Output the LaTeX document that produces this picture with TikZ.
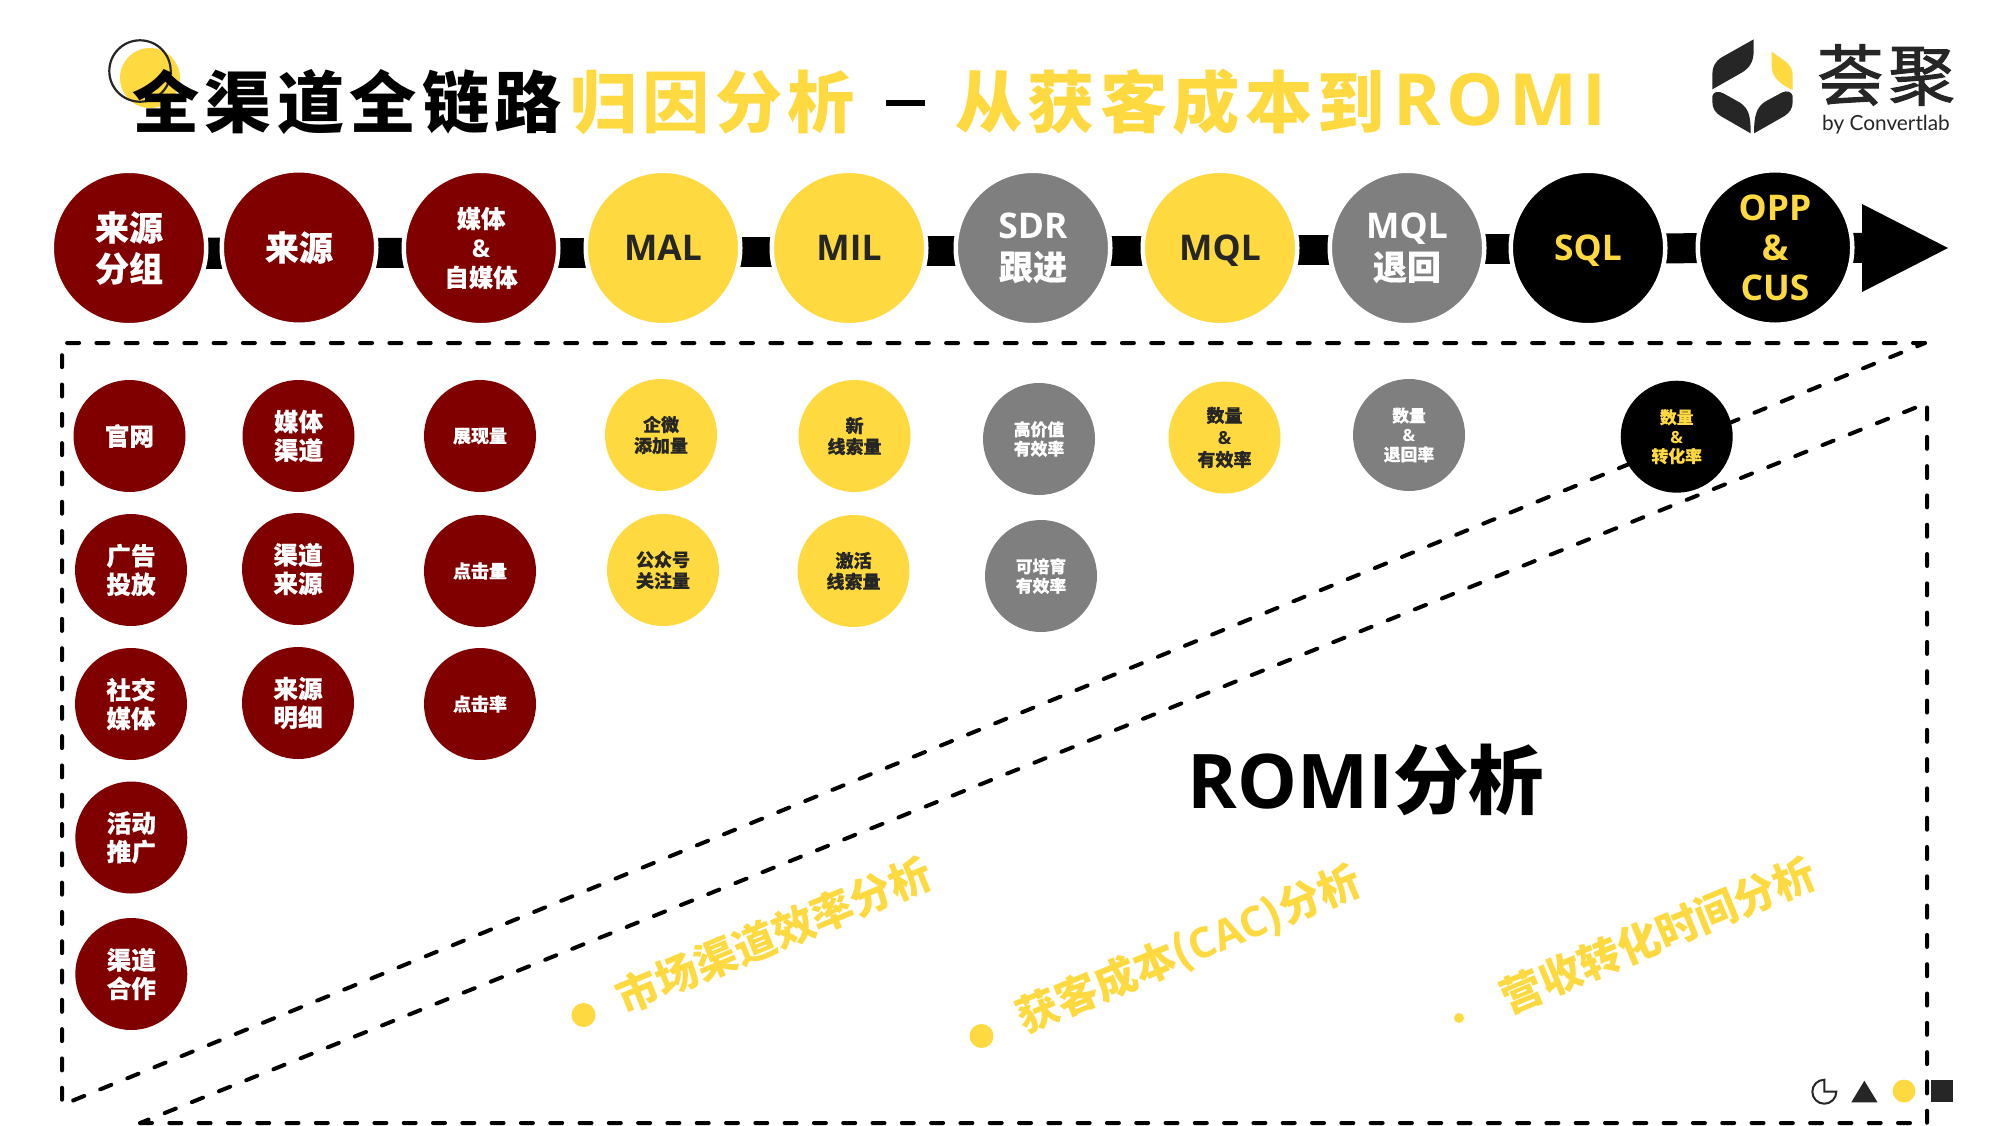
\documentclass[tikz,border=0pt]{standalone}
\usepackage{fontspec}
\usetikzlibrary{calc}
\newfontfamily\cjk[BoldFeatures={FakeBold=0.4}]{Noto Sans CJK SC}
\newfontfamily\cjkR{Noto Sans CJK SC}
\newfontfamily\cjkT[LetterSpace=8]{Noto Sans CJK SC}
\newfontfamily\cjkL[LetterSpace=8,FakeBold=1.6]{Noto Sans CJK SC}
\newfontfamily\lat{Open Sans}
\newfontfamily\latT[LetterSpace=8]{Open Sans}
\newfontfamily\logofont{Lato}
\newcommand\amp{{\lat\&}}
\newcommand\low[1]{\raisebox{0pt}[12.6pt][0pt]{#1}}
\definecolor{cred}{HTML}{800000}
\definecolor{cyel}{HTML}{FFD940}
\definecolor{cgry}{HTML}{7F7F7F}
\definecolor{cdrk}{HTML}{262626}
\pgfdeclarelayer{bg}
\pgfsetlayers{bg,main}
\newcommand\fs[2]{\fontsize{#1pt}{#2pt}\selectfont}
\tikzset{
  big/.style={circle,inner sep=0pt,outer sep=0pt,minimum size=77.25pt,draw=white,line width=2.25pt,align=center,font=\cjk\bfseries\fs{17}{20.5}},
  small/.style={circle,inner sep=0pt,outer sep=0pt,minimum size=56pt,align=center,font=\cjk\bfseries\fs{12.3}{14.3}},
  redc/.style={fill=cred,text=white},
  yelc/.style={fill=cyel,text=cdrk},
  gryc/.style={fill=cgry,text=white},
  blkc/.style={fill=black,text=cyel},
  bar/.style={line width=15pt,black},
  dashline/.style={line width=2pt,black,line cap=round,dash pattern=on 6pt off 8.65pt},
  tiny/.style={font=\cjk\bfseries\fs{9}{10.5}},
  tinier/.style={font=\cjk\bfseries\fs{8.4}{9.7}},
  mid/.style={font=\cjk\bfseries\fs{12.2}{14.7}},
  latin/.style={font=\lat\bfseries\fs{17.7}{20}},
  titletxt/.style={inner sep=0pt,outer sep=0pt,anchor=west,font=\cjkT\bfseries\fs{33.6}{36}},
  rottxt/.style={inner sep=0pt,text=cyel,rotate=22.5,font=\cjkR\bfseries\fs{21}{24}},
  dot/.style={circle,inner sep=0pt,fill=cyel},
  logoshape/.style={fill=cdrk}
}
\begin{document}
\begin{tikzpicture}[x=.5pt,y=-.5pt]
\useasboundingbox (0,0) rectangle (2000,1125);

% top row
\node[big,redc] (c1) at (129,248) {来源\\分组};
\node[big,redc] (c2) at (299,247.5) {来源};
\node[big,redc,mid] (c3) at (481,248) {媒体\\\amp\\自媒体};
\node[big,yelc,latin] (c4) at (663,248) {\low{MAL}};
\node[big,yelc,latin] (c5) at (849,248) {\low{MIL}};
\node[big,gryc] (c6) at (1033,248) {{\lat\bfseries\fs{17.7}{20.5}SDR}\\跟进};
\node[big,yelc,latin] (c7) at (1220,248) {\low{MQL}};
\node[big,gryc] (c8) at (1407,248) {{\lat\bfseries\fs{17.7}{20.5}MQL}\\退回};
\node[big,blkc,latin] (c9) at (1588,248) {\low{SQL}};
\node[big,blkc,latin] (c10) at (1775,247.5) {OPP\\\&\\CUS};
\coordinate (tipbase) at (1870,248);

% corners of the dashed frames
\coordinate (a1) at (62,343);
\coordinate (a2) at (1925,343);
\coordinate (a3) at (62,1105);
\coordinate (b1) at (1927,403);
\coordinate (b2) at (1927,1123);
\coordinate (b3) at (140,1123);

\begin{pgfonlayer}{bg}
\fill[white] (0,0) rectangle (2000,1125);
\fill[cyel] (150,78) circle[radius=30];
\draw[bar] ([yshift=-2.75pt]c1.center) -- ([yshift=-2.75pt]c1.center -| c2.center);
\draw[bar] ([yshift=-2.5pt]c2.center -| c1.east) -- ([yshift=-2.5pt]c3.center);
\draw[bar] ([yshift=-2.25pt]c3.center) -- ([yshift=-2.25pt]c4.center);
\draw[bar] ([yshift=-2pt]c4.center) -- ([yshift=-2pt]c5.center);
\draw[bar] ([yshift=-1.5pt]c5.center) -- ([yshift=-1.5pt]c6.center);
\draw[bar] ([yshift=-1.25pt]c6.center) -- ([yshift=-1.25pt]c7.center);
\draw[bar] ([yshift=-1pt]c7.center) -- ([yshift=-1pt]c8.center);
\draw[bar] ([yshift=-.5pt]c8.center) -- ([yshift=-.5pt]c9.center);
\draw[bar] ([yshift=-.25pt]c9.center) -- ([yshift=-.25pt]c10.center);
\draw[bar] (c10.center) -- (tipbase);
\fill[cdrk] (1930.7,1080) rectangle (1953,1102.3);
\draw[dashline] (a2) -- (a1) -- (a3) -- cycle;
\draw[dashline] (b3) -- (b2) -- (b1) -- cycle;
\end{pgfonlayer}

\fill[black] (1862,204) -- (1948,248) -- (1862,292) -- cycle;

% title
\draw[cdrk,line width=1.1pt] (140,71) circle[radius=30.7];
\node[titletxt,text=black] (t1) at (132,102) {全渠道全链路};
\node[titletxt,text=cyel] (t2) at (570,102) {归因分析};
\fill[black] (886,100) rectangle (925,106);
\node[titletxt,text=cyel] (t3) at (955,102) {从获客成本到};
\node[titletxt,text=cyel,font=\latT\bfseries\fs{36}{38}] (t4) at (1393,100) {ROMI};

% column 1
\node[small,redc] (s11) at (129.5,436) {官网};
\node[small,redc] (s12) at (131,570) {广告\\投放};
\node[small,redc] (s13) at (131,704) {社交\\媒体};
\node[small,redc] (s14) at (131.3,837.5) {活动\\推广};
\node[small,redc] (s15) at (131.3,974) {渠道\\合作};
% column 2
\node[small,redc] (s21) at (298.5,436) {媒体\\渠道};
\node[small,redc] (s22) at (298,569) {渠道\\来源};
\node[small,redc] (s23) at (298,703) {来源\\明细};
% column 3
\node[small,redc,tiny] (s31) at (480,436) {展现量};
\node[small,redc,tiny] (s32) at (480,571) {点击量};
\node[small,redc,tiny] (s33) at (480,704) {点击率};
% column 4
\node[small,yelc,tiny] (s41) at (661,435) {企微\\添加量};
\node[small,yelc,tiny] (s42) at (663,570) {公众号\\关注量};
% column 5
\node[small,yelc,tiny] (s51) at (854.5,436) {新\\线索量};
\node[small,yelc,tiny] (s52) at (853.5,571) {激活\\线索量};
% column 6
\node[small,gryc,tinier] (s61) at (1039,439) {高价值\\有效率};
\node[small,gryc,tinier] (s62) at (1041,576) {可培育\\有效率};
% others
\node[small,yelc,font=\cjk\bfseries\fs{9}{11}] (s71) at (1224.5,437.5) {数量\\\amp\\有效率};
\node[small,gryc,tinier] (s81) at (1409,435) {数量\\\amp\\退回率};
\node[small,blkc,tinier] (s91) at (1676.7,436.7) {数量\\\amp\\转化率};

% ROMI
\node[inner sep=0pt,text=black,font=\lat\bfseries\fs{37.7}{42}] (romi) at (1366,780) {ROMI{\cjkR\bfseries 分析}};

\node[rottxt] (r1) at (774,935) {市场渠道效率分析};
\node[rottxt] (r2) at (1189,950) {获客成本({\lat\bfseries CAC})分析};
\node[rottxt] (r3) at (1658,935) {营收转化时间分析};
\node[dot,minimum size=12pt] (d1) at (583.5,1015) {};
\node[dot,minimum size=12pt] (d2) at (981.5,1036) {};
\node[dot,minimum size=5pt] (d3) at (1459,1018) {};

% footer icons
\draw[cdrk,line width=1pt] (1824.3,1079.7) arc[start angle=90,end angle=360,radius=6pt] -- (1824.3,1091.7) -- cycle;
\fill[cdrk] (1864.3,1080.7) -- (1851.3,1102.3) -- (1877.5,1102.3) -- cycle;
\node[dot,minimum size=11.4pt] (d4) at (1904,1091) {};

% logo
\begin{scope}[xshift=825pt,x=.16667pt,y=-.16667pt]
\fill[logoshape] (311,118) -- (215,172) .. controls (195,185) and (187,200) .. (187,222) -- (187,268) -- (275,218) .. controls (300,203) and (311,185) .. (311,150) -- cycle;
\fill[cyel] (365,155) -- (400,180) .. controls (420,195) and (428,205) .. (428,225) -- (428,270) .. controls (400,258) and (365,235) .. (365,200) -- cycle;
\fill[logoshape] (187,288) .. controls (190,275) and (205,272) .. (220,280) -- (270,308) .. controls (295,325) and (302,345) .. (302,400) -- (215,350) .. controls (195,338) and (187,325) .. (187,305) -- cycle;
\fill[logoshape] (428,288) .. controls (425,275) and (410,270) .. (395,278) -- (345,305) .. controls (320,322) and (312,345) .. (312,400) -- (400,350) .. controls (420,338) and (428,325) .. (428,305) -- cycle;
\end{scope}
\node[inner sep=0pt,text=cdrk,font=\cjkL\fs{33}{36}] (lg) at (1886,75) {荟聚};
\node[inner sep=0pt,text=cdrk,font=\logofont\fs{10.4}{13}] (lg2) at (1886,125) {by Convertlab};
\end{tikzpicture}
\end{document}
